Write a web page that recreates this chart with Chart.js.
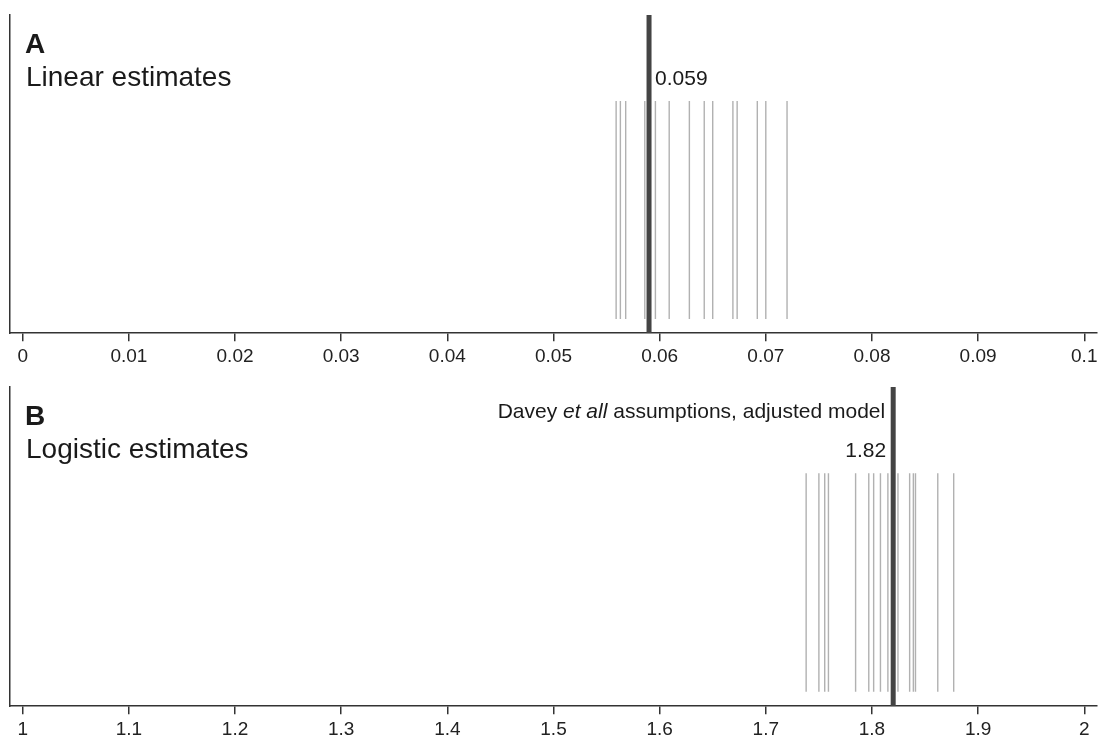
<!DOCTYPE html>
<html>
<head>
<meta charset="utf-8">
<script src="https://cdn.jsdelivr.net/npm/chart.js@4.4.1/dist/chart.umd.min.js"></script>
<style>
    html, body { margin: 0; padding: 0; background: #fff; overflow: hidden; width: 1098px; height: 737px; }
    .panel { position: absolute; left: 0; width: 1098px; }
    #panel-a { top: 0; height: 372px; }
    #panel-b { top: 372px; height: 373px; }
</style>
</head>
<body>
<div class="panel" id="panel-a"><canvas id="chart-a"></canvas></div>
<div class="panel" id="panel-b"><canvas id="chart-b"></canvas></div>
<script>
const FONT = "'Liberation Sans', Arial, Helvetica, sans-serif";

// --- Panel A: linear estimates ---
const LINEAR_ESTIMATES = [0.0559, 0.0563, 0.0568, 0.0586, 0.0596, 0.0609, 0.0628, 0.0642,
                          0.0650, 0.0669, 0.0669, 0.0673, 0.0692, 0.0700, 0.0700, 0.0720];
const LINEAR_MAIN = 0.059;
const LINEAR_TICKS = [0, 0.01, 0.02, 0.03, 0.04, 0.05, 0.06, 0.07, 0.08, 0.09, 0.1];
const LINEAR_TICK_LABELS = ['0', '0.01', '0.02', '0.03', '0.04', '0.05', '0.06', '0.07', '0.08', '0.09', '0.1'];

// --- Panel B: logistic estimates ---
const LOGISTIC_ESTIMATES = [1.738, 1.750, 1.7555, 1.759, 1.7846, 1.797, 1.8016, 1.808,
                            1.815, 1.8245, 1.8355, 1.839, 1.841, 1.862, 1.877];
const LOGISTIC_MAIN = 1.82;
const LOGISTIC_TICKS = [1, 1.1, 1.2, 1.3, 1.4, 1.5, 1.6, 1.7, 1.8, 1.9, 2];
const LOGISTIC_TICK_LABELS = ['1', '1.1', '1.2', '1.3', '1.4', '1.5', '1.6', '1.7', '1.8', '1.9', '2'];

// rug marks span this part of the unit-height panel
const RUG_LOW = 0.045;
const RUG_HIGH = 0.73;

function rugPoints(values) {
    const pts = [];
    values.forEach(v => {
        pts.push({ x: v, y: RUG_LOW }, { x: v, y: RUG_HIGH }, { x: v, y: null });
    });
    return pts;
}

const panelText = {
    id: 'panelText',
    afterDraw(chart, args, opts) {
        const { ctx, chartArea: area, scales: { x } } = chart;
        const top = area.top;
        ctx.save();
        ctx.fillStyle = '#1a1a1a';
        ctx.textBaseline = 'alphabetic';
        ctx.textAlign = 'left';
        ctx.font = `bold 28px ${FONT}`;
        ctx.fillText(opts.letter, area.left + 15, top + 38);
        ctx.font = `28px ${FONT}`;
        ctx.fillText(opts.title, area.left + 16, top + 71);

        const px = x.getPixelForValue(opts.value);
        ctx.font = `21px ${FONT}`;
        if (opts.labelRight) {
            ctx.fillText(opts.valueLabel, px + 6, top + 70);
        } else {
            ctx.textAlign = 'right';
            ctx.fillText(opts.valueLabel, px - 7, top + 70);
            ctx.textAlign = 'left';
        }

        if (opts.note) {
            const fonts = opts.note.map(p => `${p.italic ? 'italic ' : ''}21px ${FONT}`);
            let total = 0;
            opts.note.forEach((p, i) => { ctx.font = fonts[i]; total += ctx.measureText(p.text).width; });
            let cx = px - 8 - total;
            opts.note.forEach((p, i) => {
                ctx.font = fonts[i];
                ctx.fillText(p.text, cx, top + 31);
                cx += ctx.measureText(p.text).width;
            });
        }
        ctx.restore();
    }
};

function makePanel(canvasId, cfg) {
    return new Chart(document.getElementById(canvasId), {
        type: 'scatter',
        data: {
            datasets: [
                {
                    data: rugPoints(cfg.estimates),
                    showLine: true,
                    borderColor: 'rgba(100, 100, 100, 0.5)',
                    borderWidth: 1.4,
                    pointRadius: 0,
                    spanGaps: false,
                },
                {
                    data: [{ x: cfg.main, y: 0 }, { x: cfg.main, y: 1 }],
                    showLine: true,
                    borderColor: '#444444',
                    borderWidth: 5,
                    pointRadius: 0,
                }
            ]
        },
        options: {
            responsive: true,
            maintainAspectRatio: false,
            animation: false,
            layout: { padding: { left: 10, right: 1, top: cfg.padTop, bottom: 0 } },
            plugins: {
                legend: { display: false },
                tooltip: { enabled: false },
                panelText: cfg.text,
            },
            scales: {
                x: {
                    type: 'linear',
                    min: cfg.min,
                    max: cfg.max,
                    afterBuildTicks: s => { s.ticks = cfg.ticks.map(v => ({ value: v })); },
                    // let the edge labels hang out past the plot edge like the original
                    afterFit: s => { s.paddingLeft = 0; s.paddingRight = 0; },
                    ticks: {
                        autoSkip: false,
                        maxRotation: 0,
                        padding: 4,
                        color: '#222',
                        font: { family: FONT, size: 19 },
                        callback: (v, i) => cfg.tickLabels[i],
                    },
                    grid: { drawOnChartArea: false, drawTicks: true, tickLength: 8, color: '#333', lineWidth: 1.5 },
                    border: { display: true, color: '#333', width: 1.5 },
                },
                y: {
                    min: 0,
                    max: 1,
                    ticks: { display: false },
                    grid: { display: false, drawTicks: false },
                    border: { display: true, color: '#333', width: 1.5 },
                }
            }
        },
        plugins: [panelText]
    });
}

makePanel('chart-a', {
    estimates: LINEAR_ESTIMATES,
    main: LINEAR_MAIN,
    min: -0.0012,
    max: 0.1012,
    ticks: LINEAR_TICKS,
    tickLabels: LINEAR_TICK_LABELS,
    padTop: 15,
    text: { letter: 'A', title: 'Linear estimates', value: LINEAR_MAIN, valueLabel: '0.059', labelRight: true },
});

makePanel('chart-b', {
    estimates: LOGISTIC_ESTIMATES,
    main: LOGISTIC_MAIN,
    min: 0.988,
    max: 2.012,
    ticks: LOGISTIC_TICKS,
    tickLabels: LOGISTIC_TICK_LABELS,
    padTop: 15,
    text: {
        letter: 'B', title: 'Logistic estimates', value: LOGISTIC_MAIN, valueLabel: '1.82', labelRight: false,
        note: [
            { text: 'Davey ', italic: false },
            { text: 'et all', italic: true },
            { text: ' assumptions, adjusted model', italic: false },
        ],
    },
});
</script>
</body>
</html>
